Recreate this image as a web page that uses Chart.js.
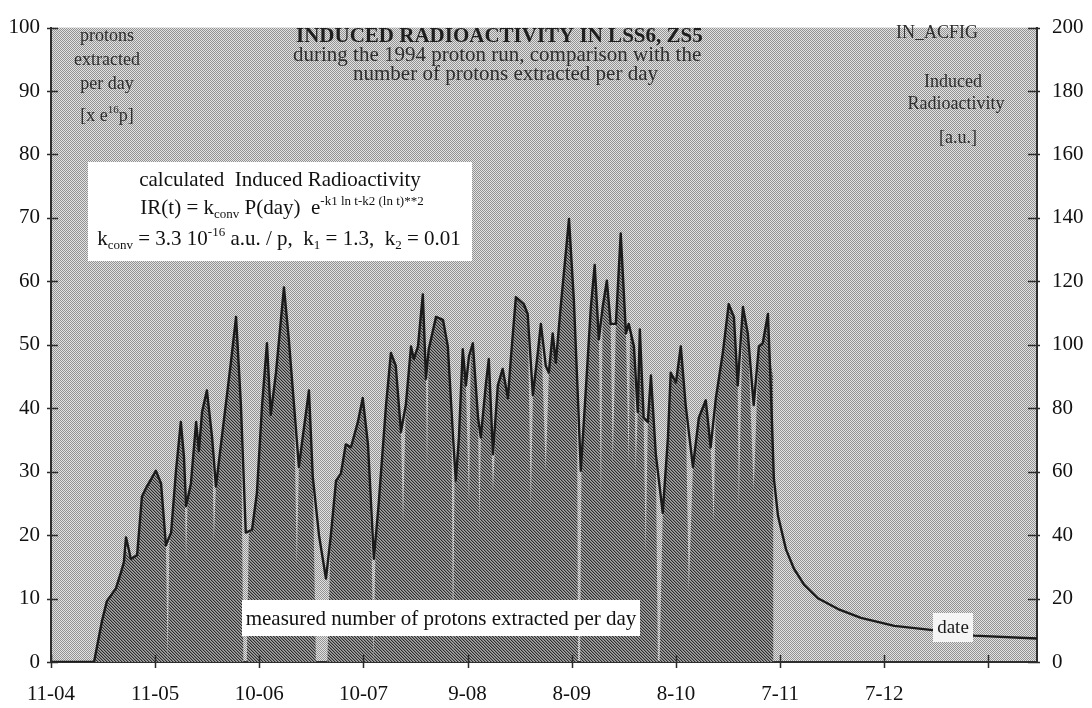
<!DOCTYPE html>
<html>
<head>
<meta charset="utf-8">
<script src="https://cdn.jsdelivr.net/npm/chart.js@4.4.0/dist/chart.umd.min.js"></script>
<style>
  html, body { margin: 0; padding: 0; background: #fff; }
</style>
</head>
<body>
<canvas id="chart" width="1092" height="708"></canvas>
<script>
// x axis: days since 11 April 1994, one tick every 30 days
const dateLabels = ["11-04", "11-05", "10-06", "10-07", "9-08", "8-09", "8-10", "7-11", "7-12", ""];

// calculated induced radioactivity (right axis, a.u.)
const irDays = [0, 12.4, 14.7, 16.1, 18.7, 20.2, 21.0, 21.6, 23.0, 24.8, 26.2, 27.6, 30.2, 31.7, 33.1, 34.6, 36.0, 37.4, 38.3, 38.9,
  40.3, 41.8, 42.6, 43.5, 44.9, 46.4, 47.5, 49.2, 51.8, 53.3, 54.7, 56.1, 57.9, 59.3, 60.8, 62.2, 63.3, 64.8, 67.1, 68.5,
  70.0, 71.4, 72.6, 74.3, 75.4, 77.2, 79.2, 80.6, 82.1, 83.5, 84.9, 86.4, 88.4, 89.8, 91.3, 93.0, 94.4, 96.5, 97.9, 99.3,
  100.8, 102.2, 103.7, 104.5, 105.7, 107.1, 108.0, 108.8, 110.9, 112.9, 114.3, 115.8, 116.6, 117.5, 118.6, 119.5, 120.4, 121.5, 123.0, 123.8,
  125.3, 126.1, 127.3, 128.7, 130.1, 131.6, 132.5, 133.9, 136.2, 137.3, 138.8, 140.2, 141.1, 142.5, 143.4, 144.5, 145.4, 146.8, 149.2, 150.6,
  151.7, 152.6, 154.0, 155.5, 156.6, 157.8, 158.9, 160.1, 161.2, 162.7, 164.1, 165.6, 166.4, 167.9, 169.0, 169.6, 170.7, 171.9, 172.8, 174.2,
  176.2, 177.7, 178.5, 180.0, 181.4, 182.8, 184.9, 186.6, 188.6, 190.0, 191.5, 193.5, 195.2, 196.7, 197.8, 199.3, 200.7, 202.4, 203.9, 205.0,
  206.5, 207.3, 208.2, 209.4, 211.7, 214.0, 216.9, 220.9, 226.7, 233.3, 242.9, 252.7, 265.9, 284];
const irValues = [0, 0, 13.0, 19.2, 23.2, 28.4, 31.5, 39.3, 32.5, 33.7, 52.2, 55.3, 60.3, 56.3, 36.8, 40.8, 60.3, 75.7, 64.6, 49.1,
  56.3, 75.7, 66.5, 78.8, 85.6, 70.8, 55.3, 70.8, 94.3, 108.8, 81.0, 40.8, 41.7, 53.2, 81.0, 100.5, 77.9, 91.2, 118.1, 101.7,
  81.0, 61.5, 71.7, 85.6, 58.4, 39.9, 26.3, 39.9, 57.2, 59.4, 68.6, 67.7, 75.7, 83.2, 68.6, 32.5, 50.1, 81.0, 97.4, 93.4,
  72.6, 81.0, 99.5, 95.5, 99.5, 115.9, 89.3, 98.6, 108.8, 107.9, 99.5, 70.8, 57.2, 70.8, 98.6, 87.2, 96.4, 100.5, 77.0, 70.8,
  88.1, 95.5, 65.5, 87.2, 92.4, 83.2, 96.4, 115.0, 112.8, 109.7, 84.1, 97.4, 106.6, 93.4, 91.2, 103.6, 94.3, 111.9, 139.7, 114.1,
  85.0, 60.3, 85.0, 111.9, 125.2, 101.7, 111.9, 120.2, 106.6, 106.6, 135.1, 103.6, 106.6, 99.5, 78.8, 104.8, 77.0, 75.7, 90.3, 65.5,
  47.0, 70.8, 91.2, 88.1, 99.5, 81.0, 61.5, 77.0, 82.5, 67.7, 83.2, 97.4, 112.8, 108.8, 87.2, 111.9, 103.6, 81.0, 99.5, 100.5,
  109.7, 87.2, 58.0, 46.1, 35.5, 29.4, 24.4, 20.1, 16.7, 13.9, 11.4, 10.2, 8.3, 7.4];

// measured protons extracted per day (left axis, x 1e16 p)
const protonDays = [0, 12.4, 14.7, 16.1, 18.7, 20.2, 21.0, 21.6, 23.0, 24.8, 26.2, 27.6, 30.2, 31.7, 33.1, 33.6, 34.1, 34.6, 36.0, 37.4,
  38.3, 38.9, 39.4, 40.3, 41.8, 42.6, 43.5, 44.9, 46.4, 46.9, 47.5, 49.2, 51.8, 53.3, 54.7, 55.4, 56.4, 57.0, 57.9, 59.3,
  60.8, 62.2, 63.3, 64.8, 67.1, 68.5, 70.0, 70.8, 71.4, 72.6, 74.3, 75.4, 76.3, 79.6, 80.6, 82.1, 83.5, 84.9, 86.4, 88.4,
  89.8, 91.3, 92.4, 92.9, 93.4, 94.4, 96.5, 97.9, 99.3, 100.8, 101.4, 102.2, 103.7, 104.5, 105.7, 107.1, 108.0, 108.3, 108.8, 110.9,
  112.9, 114.3, 115.4, 115.8, 116.2, 117.5, 118.6, 119.5, 120.4, 120.9, 121.5, 123.0, 123.4, 123.8, 125.3, 126.1, 127.3, 128.7, 130.1, 131.6,
  132.5, 133.9, 136.2, 137.3, 138.2, 138.8, 140.2, 141.1, 142.5, 143.4, 144.5, 145.4, 146.8, 149.2, 150.6, 151.5, 151.8, 152.4, 152.8, 154.0,
  155.5, 156.6, 157.8, 158.4, 158.9, 160.1, 161.2, 161.8, 162.7, 164.1, 165.6, 166.4, 166.8, 167.9, 168.4, 169.0, 169.6, 170.7, 171.3, 171.9,
  172.8, 174.2, 174.8, 175.3, 176.2, 177.7, 178.5, 180.0, 181.4, 182.8, 183.7, 184.9, 186.6, 188.6, 190.0, 190.9, 191.5, 193.5, 195.2, 196.7,
  197.8, 198.1, 199.3, 200.7, 202.4, 203.9, 205.0, 206.5, 207.3, 208.0, 208.1];
const protonValues = [0, 0, 6.5, 9.6, 11.6, 14.2, 15.8, 17.5, 16.3, 16.9, 26.1, 27.7, 30.2, 28.2, 18.4, 0, 18.5, 20.4, 30.2, 37.9,
  32.3, 16, 26, 28.2, 37.9, 33.3, 39.4, 42.8, 35.4, 19, 27.7, 35.4, 47.2, 54.4, 40.5, 0, 0, 20.8, 20.9, 26.6,
  40.5, 50.3, 39.0, 45.6, 59.1, 50.9, 40.5, 15, 30.8, 35.9, 42.8, 29.2, 0, 0, 20.0, 28.6, 29.7, 34.3, 33.9, 37.9,
  41.6, 34.3, 16, 0, 16, 25.1, 40.5, 48.7, 46.7, 36.3, 22, 40.5, 49.8, 47.8, 49.8, 58.0, 44.7, 30, 49.3, 54.4,
  54.0, 49.8, 35.4, 0, 28.6, 35.4, 49.3, 43.6, 25, 48.2, 50.3, 38.5, 21, 35.4, 44.1, 47.8, 27, 43.6, 46.2, 41.6,
  48.2, 57.5, 56.4, 54.9, 24, 42.1, 48.7, 53.3, 30, 45.6, 51.8, 47.2, 56.0, 69.9, 57.1, 42.5, 0, 0, 32, 42.5,
  56.0, 62.6, 50.9, 25, 56.0, 60.1, 53.3, 31, 53.3, 67.6, 51.8, 31, 53.0, 49.8, 30, 39.4, 52.4, 38.5, 17, 37.9,
  45.2, 32.8, 0, 0, 23.5, 35.4, 45.6, 44.1, 49.8, 40.5, 11, 30.8, 38.5, 41.3, 33.9, 22, 41.6, 48.7, 56.4, 54.4,
  43.6, 24, 56.0, 51.8, 27, 49.8, 50.3, 54.9, 47, 45, 0];

const SERIF = '"Liberation Serif", "Times New Roman", serif';
const canvas = document.getElementById("chart");
const ctx = canvas.getContext("2d");

// small pixel tiles for the dithered background and the hatched area
function tile(w, h, colorAt) {
  const c = document.createElement("canvas");
  c.width = w;
  c.height = h;
  const g = c.getContext("2d");
  for (let y = 0; y < h; y++) {
    for (let x = 0; x < w; x++) {
      g.fillStyle = colorAt(x, y);
      g.fillRect(x, y, 1, 1);
    }
  }
  return ctx.createPattern(c, "repeat");
}
const checker = tile(2, 2, (x, y) => ((x + y) % 2 ? "#e2e2e2" : "#939393"));
const hatch = tile(3, 3, (x, y) => ["#2c2c2c", "#7e7e7e", "#a6a6a6"][(x - y + 3) % 3]);

// text with sub/superscript pieces: [text, 0 normal | 1 sub | 2 sup]
function rich(g, segs, cx, base, size, color) {
  const small = Math.round(size * 0.62);
  let total = 0;
  const parts = segs.map(([t, k]) => {
    const fs = k ? small : size;
    g.font = `${fs}px ${SERIF}`;
    const w = g.measureText(t).width;
    total += w;
    return { t, k, fs, w };
  });
  let x = cx - total / 2;
  g.fillStyle = color;
  g.textAlign = "left";
  g.textBaseline = "alphabetic";
  parts.forEach((p) => {
    g.font = `${p.fs}px ${SERIF}`;
    const dy = p.k === 1 ? size * 0.2 : p.k === 2 ? -size * 0.42 : 0;
    g.fillText(p.t, x, base + dy);
    x += p.w;
  });
}

function text(g, t, x, base, size, color, align, bold) {
  g.font = `${bold ? "bold " : ""}${size}px ${SERIF}`;
  g.fillStyle = color;
  g.textAlign = align;
  g.textBaseline = "alphabetic";
  g.fillText(t, x, base);
}

const decor = {
  id: "decor",
  beforeDraw(chart) {
    const a = chart.chartArea;
    const g = chart.ctx;
    g.save();
    g.fillStyle = checker;
    g.fillRect(a.left, a.top, a.right - a.left, a.bottom - a.top);
    g.restore();
  },
  afterDraw(chart) {
    const g = chart.ctx;
    const a = chart.chartArea;
    const { x, y, y2 } = chart.scales;
    g.save();

    // tick marks crossing the axes
    g.strokeStyle = "#2a2a2a";
    g.lineWidth = 1.5;
    g.beginPath();
    y.ticks.forEach((t) => {
      const py = Math.round(y.getPixelForValue(t.value)) + 0.5;
      g.moveTo(a.left - 4, py);
      g.lineTo(a.left + 7, py);
    });
    y2.ticks.forEach((t) => {
      const py = Math.round(y2.getPixelForValue(t.value)) + 0.5;
      g.moveTo(a.right - 9, py);
      g.lineTo(a.right + 3, py);
    });
    x.ticks.forEach((t) => {
      if (t.value % 30 !== 0 || t.value > 270) return;
      const px = Math.round(x.getPixelForValue(t.value)) + 0.5;
      g.moveTo(px, a.bottom - 7);
      g.lineTo(px, a.bottom + 6);
    });
    g.stroke();

    // labels inside the plot
    const gray = "#2e2e2e";
    text(g, "protons", 107, 41, 18, gray, "center");
    text(g, "extracted", 107, 65, 18, gray, "center");
    text(g, "per day", 107, 89, 18, gray, "center");
    rich(g, [["[x e", 0], ["16", 2], ["p]", 0]], 107, 121, 18, gray);

    text(g, "INDUCED RADIOACTIVITY IN LSS6, ZS5", 296, 42, 21, "#1e1e1e", "left", true);
    text(g, "during the 1994 proton run, comparison with the", 293, 61, 21, gray, "left");
    text(g, "number of protons extracted per day", 353, 80, 21, gray, "left");

    text(g, "IN_ACFIG", 937, 38, 18, gray, "center");
    text(g, "Induced", 953, 87, 18, gray, "center");
    text(g, "Radioactivity", 956, 109, 18, gray, "center");
    text(g, "[a.u.]", 958, 143, 18, gray, "center");

    // formula box
    g.fillStyle = "#ffffff";
    g.fillRect(88, 162, 384, 99);
    text(g, "calculated  Induced Radioactivity", 280, 186, 21, "#111", "center");
    rich(g, [["IR(t) = k", 0], ["conv", 1], [" P(day)  e", 0], ["-k1 ln t-k2 (ln t)**2", 2]], 282, 214, 21, "#111");
    rich(g, [["k", 0], ["conv", 1], [" = 3.3 10", 0], ["-16", 2], [" a.u. / p,  k", 0], ["1", 1], [" = 1.3,  k", 0], ["2", 1], [" = 0.01", 0]],
      279, 245, 21, "#111");

    // label for the measured area
    g.fillStyle = "#ffffff";
    g.fillRect(242, 600, 398, 36);
    text(g, "measured number of protons extracted per day", 441, 625, 21, "#111", "center");

    // x-axis name sitting on the decay curve
    g.fillStyle = "#f4f4f4";
    g.fillRect(933, 613, 40, 29);
    text(g, "date", 953, 633, 19, "#1a1a1a", "center");

    g.restore();
  },
};

const tickFont = { family: SERIF, size: 21 };

new Chart(ctx, {
  type: "line",
  data: {
    datasets: [
      {
        label: "Induced Radioactivity",
        data: irDays.map((d, i) => ({ x: d, y: irValues[i] })),
        yAxisID: "y2",
        borderColor: "#1a1a1a",
        borderWidth: 2.4,
        borderJoinStyle: "round",
        fill: false,
        pointRadius: 0,
        tension: 0,
      },
      {
        label: "protons extracted per day",
        data: protonDays.map((d, i) => ({ x: d, y: protonValues[i] })),
        yAxisID: "y",
        borderColor: "rgba(0,0,0,0)",
        borderWidth: 0,
        backgroundColor: hatch,
        fill: "origin",
        pointRadius: 0,
        tension: 0,
      },
    ],
  },
  options: {
    responsive: false,
    animation: false,
    layout: { padding: { top: 15, left: 0, right: 0, bottom: 0 } },
    plugins: { legend: { display: false }, tooltip: { enabled: false } },
    scales: {
      x: {
        type: "linear",
        min: 0,
        max: 284,
        afterFit: (s) => { s.height = 46; },
        grid: { display: false, drawTicks: false },
        border: { display: true, color: "#2e2e2e", width: 2 },
        ticks: {
          stepSize: 30,
          includeBounds: false,
          autoSkip: false,
          maxRotation: 0,
          padding: 20,
          color: "#111",
          font: tickFont,
          callback: (v) => dateLabels[Math.round(v / 30)] ?? "",
        },
      },
      y: {
        position: "left",
        min: 0,
        max: 100,
        afterFit: (s) => { s.width = 51; },
        grid: { display: false, drawTicks: false },
        border: { display: true, color: "#2e2e2e", width: 2 },
        ticks: { stepSize: 10, padding: 11, color: "#111", font: tickFont },
      },
      y2: {
        position: "right",
        min: 0,
        max: 200,
        afterFit: (s) => { s.width = 55; },
        grid: { display: false, drawTicks: false },
        border: { display: true, color: "#2e2e2e", width: 2 },
        ticks: { stepSize: 20, padding: 15, color: "#111", font: tickFont },
      },
    },
  },
  plugins: [decor],
});
</script>
</body>
</html>
